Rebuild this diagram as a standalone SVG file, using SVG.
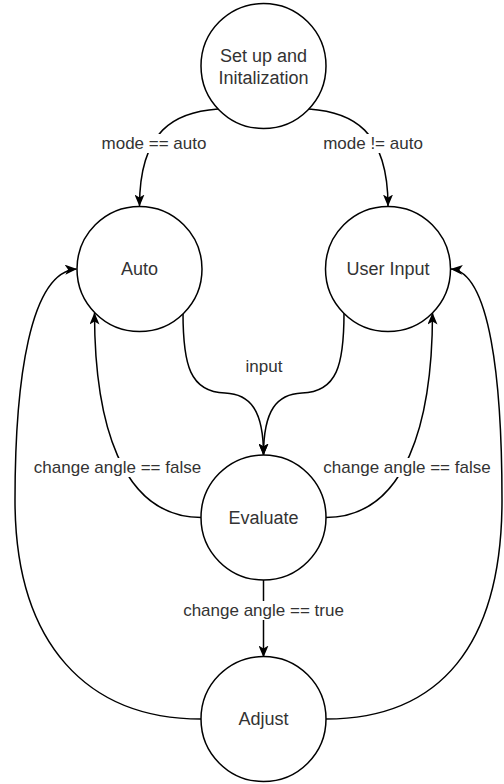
<svg xmlns="http://www.w3.org/2000/svg" width="504" height="784" viewBox="0 0 504 784">
<defs>
<style>
.node circle{fill:#fff;stroke:#000;stroke-width:1.5}
.node text{font-family:"Liberation Sans",Arial,Helvetica,sans-serif;font-size:18px;fill:#333;text-anchor:middle}
.edge{fill:none;stroke:#000;stroke-width:1.5}
.lbl{font-family:"Liberation Sans",Arial,Helvetica,sans-serif;font-size:17px;fill:#333;text-anchor:middle}
.bg{fill:#fff}
</style>
<marker id="arr" viewBox="0 0 12 10" refX="11.5" refY="5" markerWidth="12" markerHeight="10" markerUnits="userSpaceOnUse" orient="auto">
<path d="M0,0 L12,5 L0,10 L3,5 Z" fill="#000"/>
</marker>
</defs>
<rect width="504" height="784" fill="#fff"/>
<g id="connectors">
<path class="edge" d="M218,109 C175,112 139.5,130 139.5,206" marker-end="url(#arr)"/>
<path class="edge" d="M309,109 C352,112 388,130 388,206" marker-end="url(#arr)"/>
<path class="edge" d="M183,313 C183,365 190,392 225,393 C250,394 263.5,410 263.5,455" marker-end="url(#arr)"/>
<path class="edge" d="M344,313 C344,365 337,392 302,393 C277,394 263.5,410 263.5,455" marker-end="url(#arr)"/>
<path class="edge" d="M201.5,517.5 C120,517.5 94.5,420 94.5,313" marker-end="url(#arr)"/>
<path class="edge" d="M325.5,517.5 C407,517.5 432.5,420 432.5,313" marker-end="url(#arr)"/>
<path class="edge" d="M263.5,580 L263.5,657" marker-end="url(#arr)"/>
<path class="edge" d="M201,719 C88,719 15,645 15,500 C15,380 30,272 76.5,269" marker-end="url(#arr)"/>
<path class="edge" d="M326,719 C440,719 502,645 502,500 C502,380 490,272 451,269" marker-end="url(#arr)"/>
<rect class="bg" x="101" y="134" width="106" height="19"/>
<text class="lbl" x="154" y="149">mode == auto</text>
<rect class="bg" x="323" y="134" width="100" height="19"/>
<text class="lbl" x="373" y="149">mode != auto</text>
<text class="lbl" x="264" y="372">input</text>
<rect class="bg" x="33" y="458" width="169" height="19"/>
<text class="lbl" x="117.5" y="473">change angle == false</text>
<rect class="bg" x="323" y="458" width="168" height="19"/>
<text class="lbl" x="407" y="473">change angle == false</text>
<rect class="bg" x="183" y="601" width="161" height="19"/>
<text class="lbl" x="263.5" y="616">change angle == true</text>
</g>
<g id="setup" class="node">
<circle cx="263.5" cy="66" r="62.5"/>
<text x="263.5" y="62">Set up and</text>
<text x="263.5" y="84">Initalization</text>
</g>
<g id="auto" class="node">
<circle cx="139.5" cy="269" r="62.5"/>
<text x="139.5" y="275">Auto</text>
</g>
<g id="userinput" class="node">
<circle cx="388" cy="269" r="62.5"/>
<text x="388" y="275">User Input</text>
</g>
<g id="evaluate" class="node">
<circle cx="263.5" cy="517.5" r="62.5"/>
<text x="263.5" y="523.5">Evaluate</text>
</g>
<g id="adjust" class="node">
<circle cx="263.5" cy="719" r="62.5"/>
<text x="263.5" y="725">Adjust</text>
</g>
</svg>
